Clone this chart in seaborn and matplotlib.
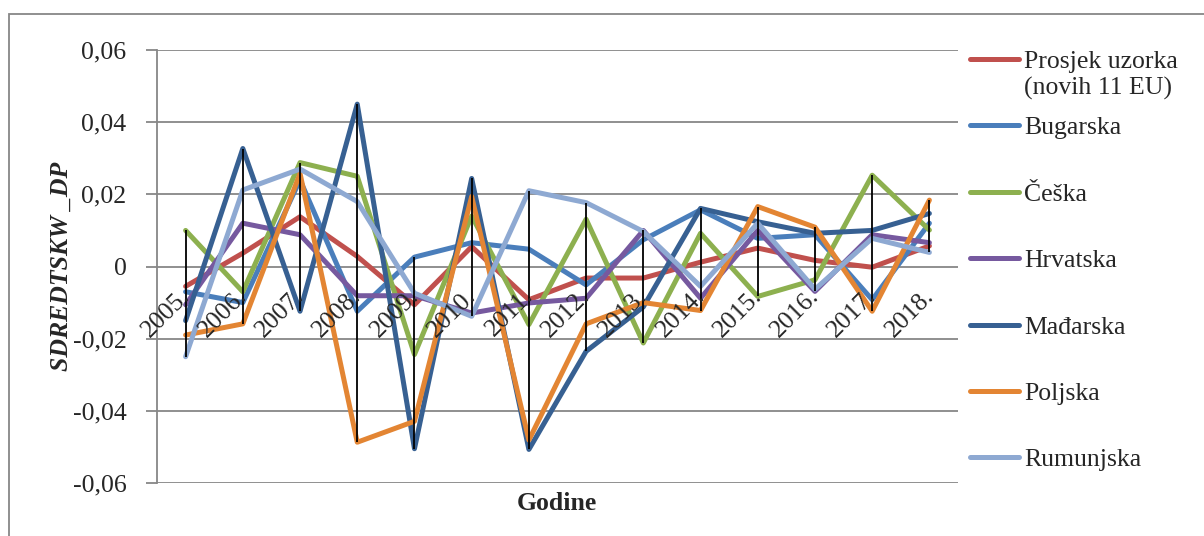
import matplotlib.pyplot as plt
import matplotlib.patches as mpatches
import matplotlib.transforms as mtransforms
import pandas as pd
import seaborn as sns

YEARS = list(range(2005, 2019))
YEAR_LABELS = [f"{y}." for y in YEARS]

PROSJEK = [-0.0055, 0.0037, 0.0138, 0.0028, -0.0106, 0.0055, -0.0092,
           -0.0032, -0.0032, 0.0012, 0.0051, 0.0017, -0.0002, 0.0057]
BUGARSKA = [-0.0070, -0.0100, 0.0240, -0.0124, 0.0026, 0.0066, 0.0048,
            -0.0051, 0.0074, 0.0157, 0.0078, 0.0088, -0.0092, 0.0120]
CESKA = [0.0100, -0.0070, 0.0288, 0.0250, -0.0244, 0.0140, -0.0161,
         0.0131, -0.0212, 0.0092, -0.0083, -0.0037, 0.0253, 0.0101]
HRVATSKA = [-0.0106, 0.0120, 0.0088, -0.0081, -0.0081, -0.0129, -0.0101,
            -0.0088, 0.0100, -0.0088, 0.0100, -0.0069, 0.0088, 0.0066]
MADARSKA = [-0.0150, 0.0327, -0.0124, 0.0450, -0.0505, 0.0244, -0.0507,
            -0.0235, -0.0112, 0.0161, 0.0124, 0.0092, 0.0100, 0.0147]
POLJSKA = [-0.0190, -0.0159, 0.0258, -0.0487, -0.0429, 0.0194, -0.0481,
           -0.0159, -0.0100, -0.0122, 0.0166, 0.0109, -0.0124, 0.0184]
RUMUNJSKA = [-0.0250, 0.0212, 0.0270, 0.0180, -0.0074, -0.0138, 0.0210,
             0.0177, 0.0097, -0.0055, 0.0120, -0.0063, 0.0078, 0.0039]

SERIES = {
    "Prosjek uzorka": PROSJEK,
    "Bugarska": BUGARSKA,
    "Češka": CESKA,
    "Hrvatska": HRVATSKA,
    "Mađarska": MADARSKA,
    "Poljska": POLJSKA,
    "Rumunjska": RUMUNJSKA,
}
COLORS = ["#C0504D", "#4A7EBB", "#8DB04F", "#76599F", "#376092", "#E38533", "#8EA9D2"]
Y_TICKS = [-0.06, -0.04, -0.02, 0, 0.02, 0.04, 0.06]

GRID = "#878787"
FS = 18.5

sns.set_theme(style="white")
plt.rcParams["font.family"] = ["Liberation Serif", "DejaVu Serif"]

df = pd.DataFrame(
    [(name, yr, val) for name, vals in SERIES.items() for yr, val in zip(YEARS, vals)],
    columns=["series", "year", "value"],
)

fig = plt.figure(figsize=(12.04, 5.36), dpi=100)
ax = fig.add_axes([157 / 1204, 1 - 483 / 536, 801 / 1204, 433 / 536])

# gridlines drawn by hand so the axis labels can sit above the series
for v in Y_TICKS:
    ax.axhline(v, color=GRID, linewidth=1.3, zorder=0)

sns.lineplot(
    data=df, x="year", y="value", hue="series", palette=COLORS, sort=False,
    linewidth=3.6, legend=False, ax=ax,
    solid_joinstyle="round", solid_capstyle="round",
)

# high-low lines
rng = df.groupby("year")["value"].agg(["min", "max"])
ax.vlines(rng.index, rng["min"], rng["max"], color="black", linewidth=1.3, zorder=5)

ax.set_xlim(YEARS[0] - 0.5, YEARS[-1] + 0.5)
ax.set_ylim(Y_TICKS[0], Y_TICKS[-1])
ax.set_yticks(Y_TICKS)
ax.set_yticklabels(["0" if v == 0 else f"{v:.2f}".replace(".", ",") for v in Y_TICKS])
ax.grid(False)
ax.tick_params(axis="y", length=8, width=1.3, color=GRID, pad=14, labelsize=FS, left=True)

ax.spines["bottom"].set_position(("data", 0))
ax.spines["bottom"].set_visible(False)
ax.spines["top"].set_visible(False)
ax.spines["right"].set_visible(False)
ax.spines["left"].set_color(GRID)
ax.spines["left"].set_linewidth(1.3)
ax.set_xticks(YEARS)
ax.set_xticklabels(YEAR_LABELS, rotation=45, ha="right", va="baseline",
                   rotation_mode="anchor", fontsize=FS)
ax.tick_params(axis="x", length=0, pad=22)
ax.xaxis.set_zorder(6)
shift = mtransforms.ScaledTranslation(5 / 100, 0, fig.dpi_scale_trans)
for lbl in ax.get_xticklabels():
    lbl.set_transform(lbl.get_transform() + shift)

ax.set_xlabel("")
ax.set_ylabel("SDREDTSKW _DP", fontsize=FS, fontweight="bold", fontstyle="italic", labelpad=0)
fig.text(557 / 1204, 1 - 503 / 536, "Godine", fontsize=FS, fontweight="bold",
         ha="center", va="center")

leg = ax.legend(
    ax.lines[len(Y_TICKS):len(Y_TICKS) + len(SERIES)], list(SERIES.keys()),
    loc="upper left", bbox_to_anchor=(970 / 1204, 1 - 50 / 536),
    bbox_transform=fig.transFigure, frameon=False, fontsize=FS,
    handlelength=1.9, handletextpad=0.2, labelspacing=1.69,
    borderpad=0, borderaxespad=0,
)
ax.annotate("(novih 11 EU)", xy=(0, 0), xycoords=leg.get_texts()[0],
            xytext=(0, -3), textcoords="offset points", va="top", ha="left",
            fontsize=FS, zorder=10)

fig.add_artist(mpatches.Rectangle(
    (9 / 1204, -0.1), 1.2, 1.1 - 14 / 536, transform=fig.transFigure,
    fill=False, edgecolor=GRID, linewidth=1.3))

fig.savefig("out.png", dpi=100)
